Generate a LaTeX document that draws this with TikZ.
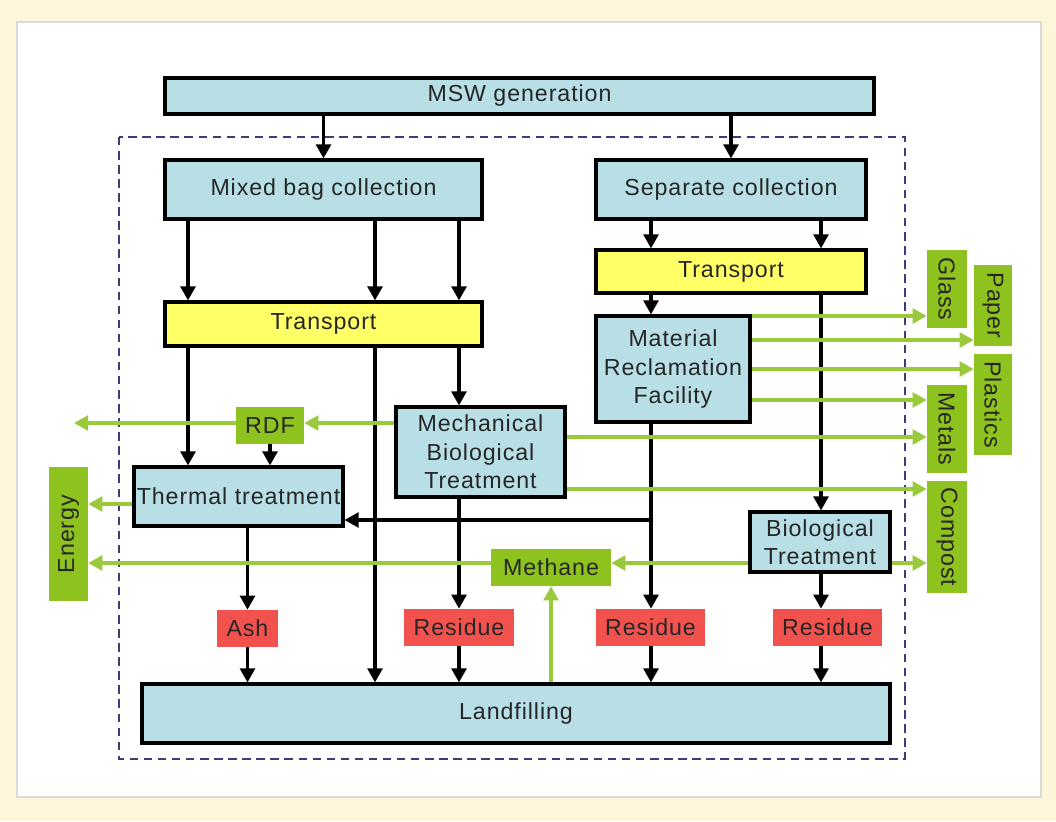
\documentclass[tikz,border=0pt]{standalone}
\usepackage{fontspec}
\setmainfont{Liberation Sans}[LetterSpace=4]
\usetikzlibrary{arrows.meta,calc}
\definecolor{boxblue}{HTML}{B7DFE5}
\definecolor{tryellow}{HTML}{FFFF66}
\definecolor{resred}{HTML}{F1524E}
\definecolor{prodgreen}{HTML}{8EC21E}
\definecolor{flowgreen}{HTML}{9ACA3C}
\definecolor{cream}{HTML}{FDF6DA}
\definecolor{framecol}{HTML}{3C3C78}
\begin{document}
\begin{tikzpicture}[x=0.025cm, y=-0.025cm,
  every node/.style={font=\fontsize{16.5}{20.3}\selectfont, text=black!85, inner sep=0pt, align=center},
  sz/.style 2 args={minimum width=#1*0.025cm, minimum height=#2*0.025cm},
  blk/.style={draw, line width=2.2pt, fill=boxblue},
  trbox/.style={draw, line width=2.2pt, fill=tryellow},
  resbox/.style={fill=resred},
  prod/.style={fill=prodgreen},
  arr/.style={line width=2.3pt, -{Triangle[length=10pt,width=10.5pt]}},
  garr/.style={line width=2.2pt, flowgreen, -{Triangle[length=10pt,width=10.5pt]}}]
% background
\fill[cream] (0,0) rectangle (1056,821);
\filldraw[fill=white, draw=black!15, line width=0.8pt] (17,22) rectangle (1041,797);
\draw[framecol, line width=1pt, dash pattern=on 6pt off 4pt] (119,137) rectangle (905,759);
% columns and rows
\coordinate (x188) at (188,0); \coordinate (x375) at (375,0); \coordinate (x459) at (459,0);
\coordinate (x651) at (651,0); \coordinate (x821) at (821,0);
\coordinate (y316) at (0,316); \coordinate (y340) at (0,340); \coordinate (y369) at (0,369); \coordinate (y400) at (0,400);
\coordinate (y423) at (0,423); \coordinate (y437) at (0,437); \coordinate (y489) at (0,489); \coordinate (y504) at (0,504);
\coordinate (y520) at (0,520); \coordinate (y563) at (0,563);
% boxes
\node[blk,sz={709}{36}] (msw) at (519.5,96) {MSW generation};
\node[blk,sz={317}{59}] (mixed) at (323.5,189.5) {Mixed bag collection};
\node[blk,sz={270}{59}] (sep) at (731,189.5) {Separate collection};
\node[trbox,sz={317}{44}] (trl) at (323.5,324) {Transport};
\node[trbox,sz={270}{43}] (trr) at (731,271.5) {Transport};
\node[blk,sz={154}{106}] (mrf) at (673,369) {Material\\Reclamation\\Facility};
\node[blk,sz={169}{90}] (mbt) at (480.5,452) {Mechanical\\Biological\\Treatment};
\node[prod,sz={68}{37}] (rdf) at (270,425.5) {RDF};
\node[blk,sz={209}{59}] (thermal) at (238.5,496.5) {Thermal treatment};
\node[blk,sz={140}{60}] (biot) at (820,542) {Biological\\Treatment};
\node[prod,sz={120}{37}] (methane) at (551,567.5) {Methane};
\node[resbox,sz={61}{37}] (ash) at (247.5,628.5) {Ash};
\node[resbox,sz={110}{37}] (res1) at (459,627.5) {Residue};
\node[resbox,sz={109}{37}] (res2) at (650.5,627.5) {Residue};
\node[resbox,sz={109}{37}] (res3) at (827.5,627.5) {Residue};
\node[blk,sz={748}{59}] (landfill) at (516,713.5) {Landfilling};
\node[prod,sz={78}{40},rotate=-90] (glass) at (947,289) {Glass};
\node[prod,sz={81}{38},rotate=-90] (paper) at (993,305.5) {Paper};
\node[prod,sz={101}{38},rotate=-90] (plastics) at (993,404.5) {Plastics};
\node[prod,sz={88}{40},rotate=-90] (metals) at (947,429) {Metals};
\node[prod,sz={112}{40},rotate=-90] (compost) at (947,537) {Compost};
\node[prod,sz={134}{39},rotate=90] (energy) at (68.5,534) {Energy};
\coordinate (rdfout) at (74,423);
% black flows
\draw[arr] (msw.south -| mixed.north) -- (mixed.north); \draw[arr] (msw.south -| sep.north) -- (sep.north);
\draw[arr] (mixed.south -| x188) -- (trl.north -| x188); \draw[arr] (mixed.south -| x375) -- (trl.north -| x375); \draw[arr] (mixed.south -| x459) -- (trl.north -| x459);
\draw[arr] (sep.south -| x651) -- (trr.north -| x651); \draw[arr] (sep.south -| x821) -- (trr.north -| x821);
\draw[arr] (trr.south -| x651) -- (mrf.north -| x651); \draw[arr] (trr.south -| x821) -- (biot.north -| x821);
\draw[arr] (trl.south -| x188) -- (thermal.north -| x188); \draw[arr] (trl.south -| x375) -- (landfill.north -| x375); \draw[arr] (trl.south -| x459) -- (mbt.north -| x459);
\draw[arr] (rdf.south) -- (thermal.north -| rdf.south);
\draw[arr] (thermal.south -| ash.north) -- (ash.north); \draw[arr] (ash.south) -- (landfill.north -| ash.south);
\draw[arr] (mbt.south -| x459) -- (res1.north -| x459); \draw[arr] (res1.south -| x459) -- (landfill.north -| x459);
\draw[arr] (mrf.south -| x651) -- (res2.north -| x651); \draw[arr] (res2.south -| x651) -- (landfill.north -| x651);
\draw[arr] (mrf.south -| x651) |- (thermal.east |- y520);
\draw[arr] (biot.south -| x821) -- (res3.north -| x821); \draw[arr] (res3.south -| x821) -- (landfill.north -| x821);
% green flows
\draw[garr] (mrf.east |- y316) -- (glass.south |- y316); \draw[garr] (mrf.east |- y340) -- (paper.south |- y340);
\draw[garr] (mrf.east |- y369) -- (plastics.south |- y369); \draw[garr] (mrf.east |- y400) -- (metals.south |- y400);
\draw[garr] (mbt.east |- y437) -- (metals.south |- y437); \draw[garr] (mbt.east |- y489) -- (compost.south |- y489);
\draw[garr] (mbt.west |- y423) -- (rdf.east |- y423); \draw[garr] (rdf.west |- y423) -- (rdfout);
\draw[garr] (thermal.west |- y504) -- (energy.south |- y504);
\draw[garr] (biot.west |- y563) -- (methane.east |- y563); \draw[garr] (methane.west |- y563) -- (energy.south |- y563);
\draw[garr] (biot.east |- y563) -- (compost.south |- y563);
\draw[garr] (landfill.north -| methane.south) -- (methane.south);
\end{tikzpicture}
\end{document}
